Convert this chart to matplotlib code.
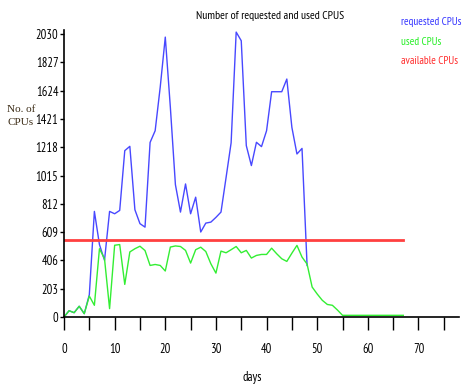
import matplotlib.pyplot as plt
import numpy as np
from matplotlib.ticker import MultipleLocator

# values, one per day
used = [0, 45, 31, 77, 24, 150, 84, 490, 418, 60,
        515, 520, 234, 467, 490, 508, 477, 370, 377, 370,
        330, 502, 510, 506, 478, 387, 483, 501, 470, 382,
        315, 473, 461, 483, 506, 461, 478, 423, 442, 449,
        449, 494, 454, 418, 399, 458, 514, 430, 380, 215,
        165, 120, 90, 84, 50, 12, 12, 12, 12, 12,
        12, 12, 12, 12, 12, 12, 12, 12]
requested = [0, 45, 31, 77, 24, 160, 758, 520, 407, 758,
             741, 765, 1194, 1225, 770, 670, 645, 1253, 1337, 1650,
             2009, 1506, 950, 753, 955, 741, 860, 610, 674, 681,
             715, 753, 1000, 1250, 2045, 1983, 1230, 1087, 1254, 1223,
             1337, 1617, 1617, 1617, 1708, 1361, 1170, 1210, 370]
available = 550
last_day = 67

yticks = [0, 203, 406, 609, 812, 1015, 1218, 1421, 1624, 1827, 2030]

plt.rcParams['font.family'] = ['PT Sans Narrow', 'DejaVu Sans']

fig = plt.figure(figsize=(4.63, 3.86), dpi=100)
ax = fig.add_axes([64/463, 1 - 317/386, (459 - 64)/463, (317 - 30)/386])

ax.plot(np.arange(len(requested)), requested, color='#4848ff', lw=1.0)
ax.plot(np.arange(len(used)), used, color='#33ee33', lw=1.0)
ax.plot([0, last_day], [available, available], color='#ff4040', lw=2.0)

ax.set_xlim(0, 78)
ax.set_ylim(0, 2060)
ax.xaxis.set_major_locator(MultipleLocator(10))
ax.xaxis.set_minor_locator(MultipleLocator(5))
ax.set_xticks(range(0, 71, 10))
ax.set_yticks(yticks)
ax.tick_params(axis='x', which='both', direction='out', length=9, width=1,
               pad=10, labelsize=9)
ax.tick_params(axis='y', direction='out', length=3, width=1, pad=1, labelsize=9)
for s in ['top', 'right']:
    ax.spines[s].set_visible(False)
for s in ['left', 'bottom']:
    ax.spines[s].set_linewidth(1.2)

fig.text(270/463, 1 - 16/386, 'Number of requested and used CPUS',
         ha='center', va='center', fontsize=8.5)
fig.text(21/463, 1 - 116/386, 'No. of\nCPUs', ha='center', va='center',
         fontsize=8, family='Liberation Serif', color='#3a2a14',
         linespacing=1.6)
fig.text(252/463, 1 - 377/386, 'days', ha='center', va='center', fontsize=9)

fig.text(401/463, 1 - 22/386, 'requested CPUs', color='#3333ff',
         ha='left', va='center', fontsize=8)
fig.text(401/463, 1 - 42/386, 'used CPUs', color='#22ee22',
         ha='left', va='center', fontsize=8)
fig.text(401/463, 1 - 61/386, 'available CPUs', color='#ff2a2a',
         ha='left', va='center', fontsize=8)

fig.savefig('out.png', dpi=100)
